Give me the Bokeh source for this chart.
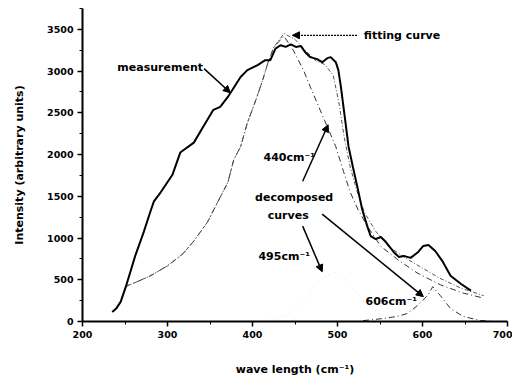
from bokeh.plotting import figure
from bokeh.models import Range1d, Label, Arrow, NormalHead, SingleIntervalTicker
from bokeh.embed import file_html
from bokeh.resources import INLINE

# measured spectrum
x_meas = [235, 240, 245, 251, 262, 272, 280, 284, 292, 306, 315, 331, 342, 354, 362, 371, 386, 394, 406, 415, 421, 427, 433, 439, 445, 451, 457, 462, 468, 476, 482, 488, 492, 498, 501, 504, 509, 513, 518, 524, 529, 535, 539, 545, 551, 557, 566, 572, 578, 586, 595, 601, 607, 615, 624, 633, 645, 657]
y_meas = [115, 160, 238, 417, 786, 1071, 1321, 1440, 1548, 1762, 2024, 2143, 2333, 2536, 2571, 2690, 2929, 3012, 3071, 3131, 3131, 3270, 3310, 3290, 3321, 3290, 3300, 3226, 3167, 3143, 3107, 3155, 3167, 3107, 3012, 2810, 2417, 2095, 1857, 1583, 1345, 1143, 1024, 988, 1012, 952, 833, 774, 786, 762, 833, 905, 917, 845, 714, 548, 452, 369]

# fitting curve
x_fit = [250, 265, 280, 300, 318, 331, 347, 359, 371, 378, 386, 394, 404, 412, 418, 425, 437, 450, 462, 475, 485, 495, 502, 508, 515, 523, 532, 545, 560, 580, 600, 620, 645, 672]
y_fit = [417, 480, 548, 667, 810, 964, 1190, 1429, 1667, 1940, 2095, 2380, 2655, 2893, 3095, 3286, 3450, 3380, 3250, 3120, 3080, 2950, 2600, 2200, 1850, 1560, 1300, 1080, 900, 760, 640, 520, 400, 310]

# decomposed component 440 cm-1
x_c440 = [250, 265, 280, 300, 318, 331, 347, 359, 371, 378, 386, 394, 404, 412, 418, 425, 437, 448, 460, 468, 476, 488, 498, 507, 515, 524, 535, 551, 571, 594, 621, 648, 672]
y_c440 = [417, 480, 548, 667, 810, 964, 1190, 1429, 1667, 1940, 2095, 2380, 2655, 2893, 3095, 3286, 3420, 3250, 3012, 2810, 2619, 2333, 2095, 1800, 1548, 1345, 1143, 900, 740, 580, 440, 340, 280]

# decomposed component 495 cm-1 (faint)
x_c495 = [420, 440, 460, 480, 495, 510, 530, 550, 570]
y_c495 = [20, 80, 250, 500, 600, 500, 250, 80, 20]

# decomposed component 606 cm-1
x_c606 = [530, 554, 570, 582, 594, 606, 612, 621, 633, 648, 668, 680]
y_c606 = [10, 36, 60, 95, 190, 310, 417, 310, 155, 60, 12, 5]

x_ticks = [200, 300, 400, 500, 600, 700]
y_ticks = [0, 500, 1000, 1500, 2000, 2500, 3000, 3500]

FONT = "DejaVu Sans"

p = figure(width=512, height=378, output_backend="svg", toolbar_location=None,
           x_range=Range1d(200, 700), y_range=Range1d(0, 3750),
           min_border_left=82, min_border_right=5, min_border_top=8, min_border_bottom=55)
p.outline_line_color = None
p.grid.grid_line_color = None
p.background_fill_color = "white"
p.border_fill_color = "white"

for ax in (p.xaxis[0], p.yaxis[0]):
    ax.axis_line_width = 2
    ax.axis_line_color = "black"
    ax.major_tick_line_width = 1.5
    ax.minor_tick_line_width = 1
    ax.major_tick_out = 5
    ax.major_tick_in = 0
    ax.minor_tick_out = 3
    ax.minor_tick_in = 0
    ax.major_label_text_font = FONT
    ax.major_label_text_font_style = "bold"
    ax.major_label_text_font_size = "9.5px"
    ax.major_label_text_color = "black"
    ax.axis_label_text_font = FONT
    ax.axis_label_text_font_style = "bold"
    ax.axis_label_text_font_size = "11px"
    ax.axis_label_text_color = "black"

p.xaxis.ticker = SingleIntervalTicker(interval=100, num_minor_ticks=2)
p.yaxis.ticker = SingleIntervalTicker(interval=500, num_minor_ticks=2)
p.xaxis.major_label_standoff = 4
p.yaxis.major_label_standoff = 4
p.xaxis.axis_label = "wave length (cm\u207b\u00b9)"
p.yaxis.axis_label = "Intensity (arbitrary units)"
p.xaxis.axis_label_standoff = 22
p.yaxis.axis_label_standoff = 18

p.line(x_c495, y_c495, line_color="#e2e2e2", line_width=1, line_dash="1 3")
p.line(x_c440, y_c440, line_color="#333333", line_width=1, line_dash="6 3 1 3")
p.line(x_fit, y_fit, line_color="#555555", line_width=1, line_dash="4 2 1 2")
p.line(x_c606, y_c606, line_color="#333333", line_width=1, line_dash="6 3 1 3")
p.line(x_meas, y_meas, line_color="black", line_width=2)

# annotations
label_text = ["measurement", "fitting curve", "440cm\u207b\u00b9", "decomposed", "curves", "495cm\u207b\u00b9", "606cm\u207b\u00b9"]
label_x = [241, 531, 413, 449, 442, 407, 533]
label_y = [3048, 3429, 1964, 1488, 1274, 774, 238]
label_align = ["left", "left", "left", "center", "center", "left", "left"]
for t, lx, ly, al in zip(label_text, label_x, label_y, label_align):
    p.add_layout(Label(x=lx, y=ly, text=t, text_font=FONT, text_font_style="bold",
                       text_font_size="11px", text_align=al, text_baseline="middle",
                       text_color="black"))

arrow_x0 = [343, 459, 482, 459]
arrow_y0 = [3030, 1680, 1286, 1143]
arrow_x1 = [374, 489, 601, 482]
arrow_y1 = [2740, 2357, 298, 595]
for x0, y0, x1, y1 in zip(arrow_x0, arrow_y0, arrow_x1, arrow_y1):
    p.add_layout(Arrow(x_start=x0, y_start=y0, x_end=x1, y_end=y1, line_width=1.5,
                       line_color="black",
                       end=NormalHead(size=7, fill_color="black", line_color="black")))
# fitting curve arrow
p.add_layout(Arrow(x_start=523, y_start=3429, x_end=447, y_end=3429, line_width=1.2,
                   line_color="black", line_dash="2 1",
                   end=NormalHead(size=7, fill_color="black", line_color="black")))

open("out.html", "w").write(file_html(p, INLINE))
